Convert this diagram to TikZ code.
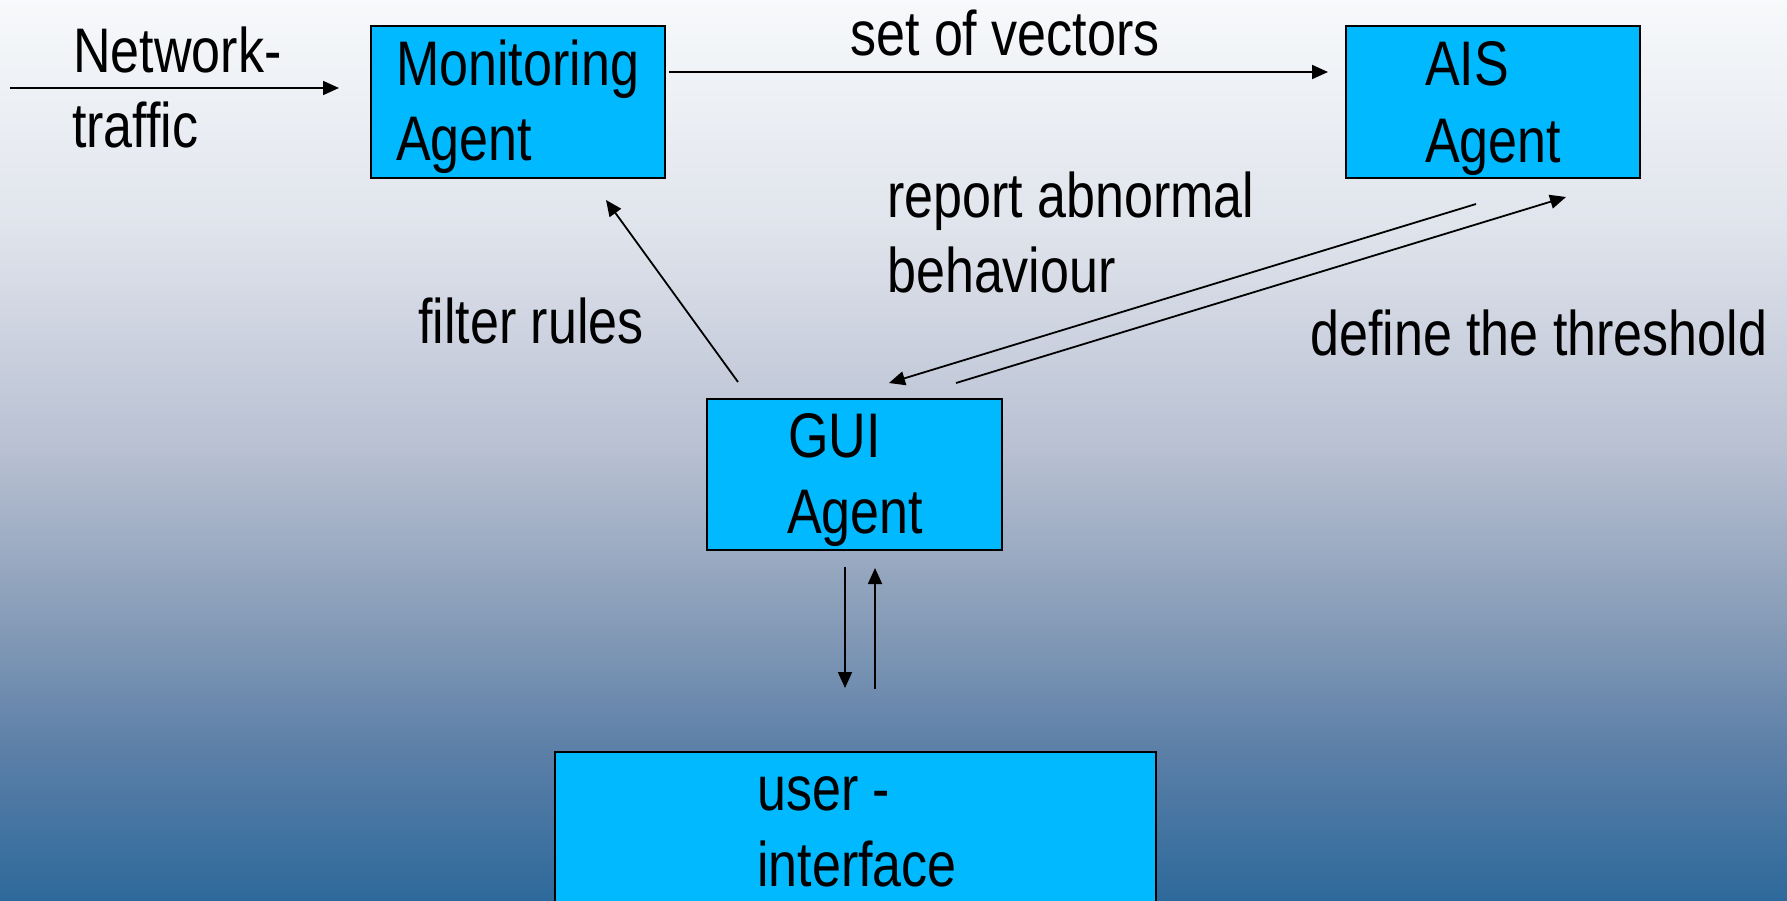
\documentclass[tikz,border=0pt]{standalone}
\usepackage{fontspec}
\setmainfont[FakeStretch=0.826]{Liberation Sans}
\usetikzlibrary{arrows.meta}
\definecolor{boxcyan}{RGB}{0,185,255}
\definecolor{bgA}{RGB}{45,105,155}
\definecolor{bgB}{RGB}{93,128,168}
\definecolor{bgC}{RGB}{140,160,186}
\definecolor{bgD}{RGB}{184,192,210}
\definecolor{bgE}{RGB}{224,228,236}
\definecolor{bgF}{RGB}{247,249,251}
\pgfdeclareverticalshading{bgshade}{100bp}{%
  color(0bp)=(bgA);
  color(25bp)=(bgA);
  color(33.5bp)=(bgB);
  color(41.5bp)=(bgC);
  color(50bp)=(bgD);
  color(62.5bp)=(bgE);
  color(75bp)=(bgF);
  color(100bp)=(bgF)}
\tikzset{
  agentbox/.style={draw=black, line width=2pt, fill=boxcyan, inner sep=0pt, anchor=north west},
  lbl/.style={anchor=base west, inner sep=0pt, font=\fontsize{63}{74}\selectfont, text=black},
  conn/.style={line width=1.8pt, -{Triangle[length=16pt,width=14pt]}}
}
\begin{document}
\begin{tikzpicture}[x=1pt,y=-1pt]
\useasboundingbox (0,0) rectangle (1787,900);
\shade[shading=bgshade] (0pt,0pt) rectangle (1787pt,-900pt);

% boxes
\node[agentbox, minimum width=294pt, minimum height=152pt] (mon) at (370,25) {};
\node[agentbox, minimum width=294pt, minimum height=152pt] (ais) at (1345,25) {};
\node[agentbox, minimum width=295pt, minimum height=151pt] (gui) at (706,398) {};
\node[agentbox, minimum width=601pt, minimum height=160pt] (ui) at (554,751) {};

% box texts
\node[lbl] (monA) at (396,85) {Monitoring};
\node[lbl] (monB) at (396,160) {Agent};
\node[lbl] (aisA) at (1425,85) {AIS};
\node[lbl] (aisB) at (1425,162) {Agent};
\node[lbl] (guiA) at (788,457) {GUI};
\node[lbl] (guiB) at (787,533) {Agent};
\node[lbl] (uiA) at (757,810) {user -};
\node[lbl] (uiB) at (757,886) {interface};

% free labels
\node[lbl] (netA) at (73,72) {Network-};
\node[lbl] (netB) at (72,147) {traffic};
\node[lbl] (vecL) at (850,55) {set of vectors};
\node[lbl] (repA) at (887,217) {report abnormal};
\node[lbl] (repB) at (887,292) {behaviour};
\node[lbl] (filL) at (418,343) {filter rules};
\node[lbl] (defL) at (1310,355) {define the threshold};

% connector ends
\coordinate (netS) at (10,88);
\coordinate (netE) at (339,88);
\coordinate (vecS) at (669,72);
\coordinate (vecE) at (1328,72);
\coordinate (filS) at (738,382);
\coordinate (filE) at (606,200);
\coordinate (repS) at (1476,204);
\coordinate (repE) at (889,383);
\coordinate (defS) at (956,383);
\coordinate (defE) at (1566,197);
\coordinate (dnS) at (845,567);
\coordinate (dnE) at (845,688);
\coordinate (upS) at (875,689);
\coordinate (upE) at (875,568);

\draw[conn] (netS) -- (netE);
\draw[conn] (vecS) -- (vecE);
\draw[conn] (filS) -- (filE);
\draw[conn] (repS) -- (repE);
\draw[conn] (defS) -- (defE);
\draw[conn] (dnS) -- (dnE);
\draw[conn] (upS) -- (upE);
\end{tikzpicture}
\end{document}
